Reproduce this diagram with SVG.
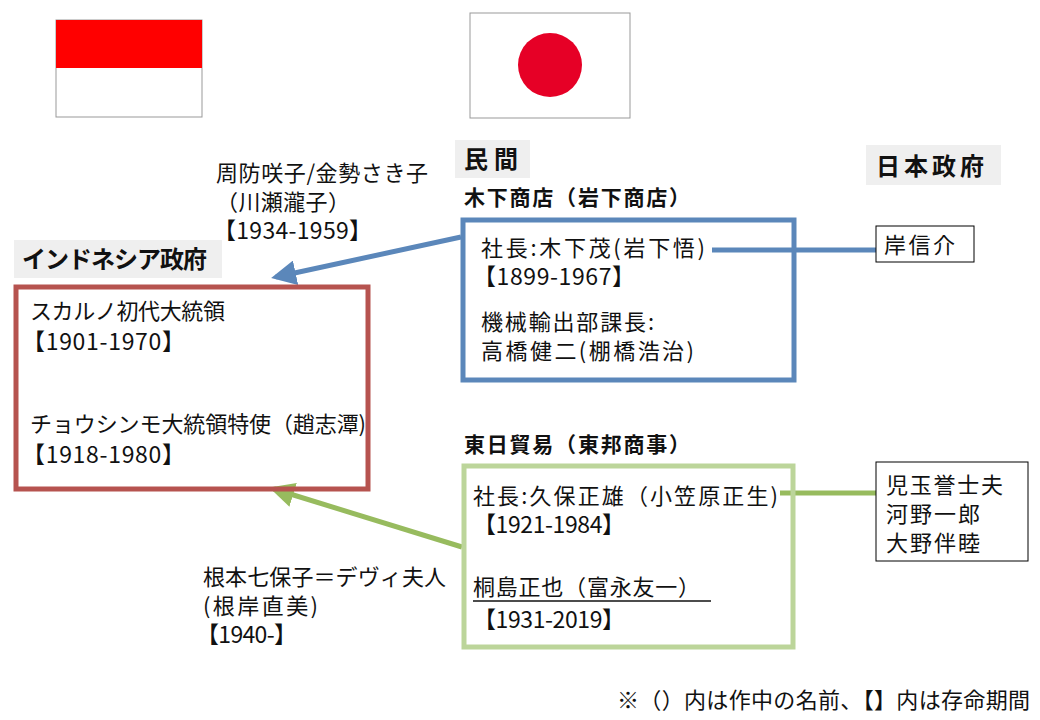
<svg xmlns="http://www.w3.org/2000/svg" width="1040" height="720" viewBox="0 0 1040 720">
<style>
text{font-family:"Noto Sans CJK JP","Noto Sans",sans-serif;fill:#111;font-size:22px}
.h{font-weight:bold;font-size:24px}
.s{font-weight:bold;font-size:21px}
.y{font-size:23px}
.hb{fill:#efefef}
</style>
<defs>
<marker id="ab" viewBox="0 0 10 10" refX="8" refY="5" markerWidth="5" markerHeight="5" orient="auto"><path d="M0,0L10,5L0,10z" fill="#5b87ba"/></marker>
<marker id="ag" viewBox="0 0 10 10" refX="8" refY="5" markerWidth="5" markerHeight="5" orient="auto"><path d="M0,0L10,5L0,10z" fill="#97bb5e"/></marker>
</defs>
<rect width="1040" height="720" fill="#fff"/>
<g id="flag-id"><rect x="56" y="20" width="146" height="97" fill="#fff" stroke="#999"/><rect x="56" y="20" width="146" height="48" fill="#ff0000"/></g>
<g id="flag-jp"><rect x="470" y="13" width="160" height="105" fill="#fff" stroke="#999"/><circle cx="550" cy="65" r="32" fill="#e60026"/></g>
<g id="connectors">
<line x1="461" y1="237" x2="276" y2="277" stroke="#5b87ba" stroke-width="5" marker-end="url(#ab)"/>
<line x1="462" y1="547" x2="274" y2="489" stroke="#97bb5e" stroke-width="5" marker-end="url(#ag)"/>
<line x1="712" y1="250" x2="876" y2="250" stroke="#5b87ba" stroke-width="5"/>
<line x1="780" y1="493" x2="876" y2="493" stroke="#97bb5e" stroke-width="5"/>
</g>
<g id="hdr-indonesia"><rect class="hb" x="14" y="240" width="208" height="38"/><text class="h" x="22" y="268" textLength="185">インドネシア政府</text></g>
<g id="hdr-minkan"><rect class="hb" x="455" y="140" width="75" height="38"/><text class="h" x="464" y="168" textLength="54">民間</text></g>
<g id="hdr-japan"><rect class="hb" x="866" y="145" width="135" height="40"/><text class="h" x="876" y="175" textLength="108">日本政府</text></g>
<g id="lbl-kinoshita"><text class="s" x="464" y="205" textLength="226">木下商店（岩下商店）</text></g>
<g id="lbl-tonichi"><text class="s" x="464" y="452" textLength="226">東日貿易（東邦商事）</text></g>
<g id="note-suo"><text x="216" y="181" textLength="212">周防咲子/金勢さき子</text><text x="216" y="210" textLength="134">（川瀬瀧子）</text><text class="y" x="213" y="239" textLength="159">【1934-1959】</text></g>
<g id="indonesia"><rect x="16" y="287" width="352" height="202" fill="none" stroke="#b6534f" stroke-width="5"/>
<text x="30" y="319" textLength="195">スカルノ初代大統領</text><text class="y" x="22" y="350" textLength="163">【1901-1970】</text>
<text x="30" y="432" textLength="336">チョウシンモ大統領特使（趙志潭)</text><text class="y" x="22" y="463" textLength="163">【1918-1980】</text></g>
<g id="kinoshita"><rect x="463" y="220" width="331" height="160" fill="none" stroke="#5b87ba" stroke-width="5"/>
<text x="481" y="256" textLength="224">社長:木下茂(岩下悟)</text><text class="y" x="473" y="285" textLength="162">【1899-1967】</text>
<text x="481" y="330" textLength="173">機械輸出部課長:</text><text x="481" y="359" textLength="213">高橋健二(棚橋浩治)</text></g>
<g id="kishi"><rect x="876" y="226" width="98" height="36" fill="#fff" stroke="#000"/><text x="884" y="253" textLength="71">岸信介</text></g>
<g id="tonichi"><rect x="464" y="466" width="329" height="181" fill="none" stroke="#bcd59a" stroke-width="5"/>
<text x="473" y="504" textLength="305">社長:久保正雄（小笠原正生)</text><text class="y" x="473" y="533" textLength="152">【1921-1984】</text>
<text x="473" y="595" textLength="227">桐島正也（富永友一）</text><line x1="473" y1="601" x2="711" y2="601" stroke="#111" stroke-width="1.3"/><text class="y" x="473" y="628" textLength="152">【1931-2019】</text></g>
<g id="kodama"><rect x="876" y="462" width="152" height="99" fill="#fff" stroke="#000"/><text x="886" y="493" textLength="117">児玉誉士夫</text><text x="886" y="522" textLength="94">河野一郎</text><text x="886" y="551" textLength="94">大野伴睦</text></g>
<g id="note-nemoto"><text x="203" y="585" textLength="243">根本七保子＝デヴィ夫人</text><text x="203" y="614" textLength="115">(根岸直美)</text><text class="y" x="196" y="643" textLength="101">【1940-】</text></g>
<g id="footnote"><text x="617" y="708" textLength="413">※（）内は作中の名前、【】内は存命期間</text></g>
</svg>
